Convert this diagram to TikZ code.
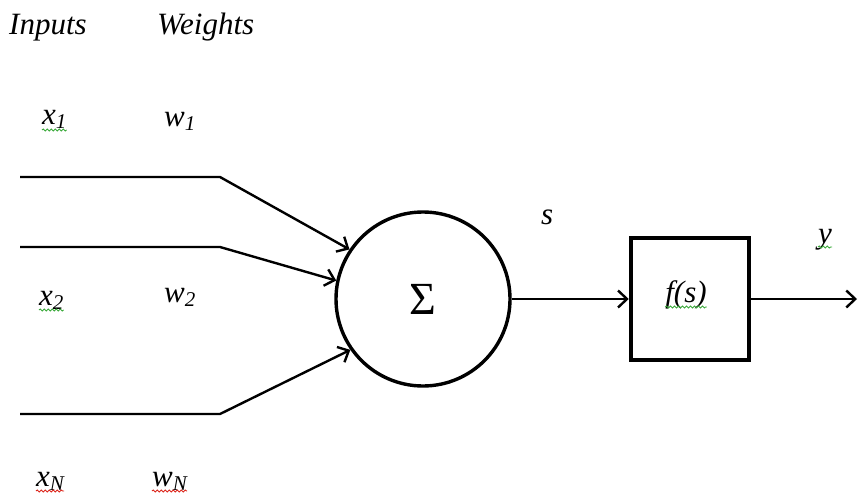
\documentclass[tikz,border=0pt]{standalone}
\usepackage{fontspec}
\setmainfont{Liberation Serif}
\usetikzlibrary{arrows.meta,decorations.pathmorphing}
\newcommand\lbsub[1]{\raisebox{-4pt}{\fontsize{21}{21}\selectfont #1}}
\tikzset{
  lbl/.style={anchor=base west, inner sep=0pt},
  wire/.style={line width=2.4pt},
  arr/.style={wire, -{Straight Barb[length=9pt,width=17pt,line width=2.4pt]}},
  squig/.style={line width=0.9pt, decorate, decoration={snake, segment length=4pt, amplitude=1pt}},
  sqgreen/.style={squig, draw={rgb,255:red,60;green,170;blue,60}},
  sqred/.style={squig, draw={rgb,255:red,220;green,40;blue,30}}
}
\begin{document}
\begin{tikzpicture}[x=1pt,y=-1pt,font=\fontsize{31}{33}\selectfont\itshape]
\useasboundingbox (0,0) rectangle (858,494);
% headings
\node[lbl] (inputs) at (9,35) {Inputs};
\node[lbl] (weights) at (157,35) {Weights};
% labels
\node[lbl] (x1) at (42,125) {x\lbsub{1}};
\node[lbl] (w1) at (164,127) {w\lbsub{1}};
\node[lbl] (x2) at (39,305) {x\lbsub{2}};
\node[lbl] (w2) at (164,302) {w\lbsub{2}};
\node[lbl] (xN) at (36,486) {x\lbsub{N}};
\node[lbl] (wN) at (152,486) {w\lbsub{N}};
\node[lbl] (s) at (541,225) {s};
\node[lbl] (y) at (818,243) {y};
% squiggles
\draw[sqgreen] ([yshift=-5pt]x1.base west) -- ([yshift=-5pt]x1.base east);
\draw[sqgreen] ([yshift=-5pt]x2.base west) -- ([yshift=-5pt]x2.base east);
\draw[sqred] ([yshift=-5pt]xN.base west) -- ([yshift=-5pt]xN.base east);
\draw[sqred] ([yshift=-5pt]wN.base west) -- ([yshift=-5pt]wN.base east);
\draw[sqgreen] ([yshift=-4pt]y.base west) -- ([yshift=-4pt]y.base east);
% summation node
\node[circle, draw, line width=3.4pt, minimum size=174pt, inner sep=0pt,
      font=\fontsize{46}{46}\selectfont\upshape] (sum) at (423,299) {Σ};
% activation box
\node[draw, line width=4.5pt, minimum width=118pt, minimum height=122pt] (box) at (690,299) {};
\node[lbl, anchor=base] (fs) at (686,302) {f(s)};
\draw[sqgreen] ([yshift=-5pt]fs.base west) -- ([yshift=-5pt]fs.base east);
% inputs
\coordinate (a1) at (20,177);
\coordinate (b1) at (220,177);
\coordinate (a2) at (20,247);
\coordinate (b2) at (220,247);
\coordinate (a3) at (20,414);
\coordinate (b3) at (220,414);
\coordinate (out) at (857,299);
\draw[arr] (a1) -- (b1) -- (sum.146);
\draw[arr] (a2) -- (b2) -- (sum.168);
\draw[arr] (a3) -- (b3) -- (sum.215);
\draw[arr] (sum.east) -- (box.west);
\draw[arr] (box.east) -- (out);
\end{tikzpicture}
\end{document}
